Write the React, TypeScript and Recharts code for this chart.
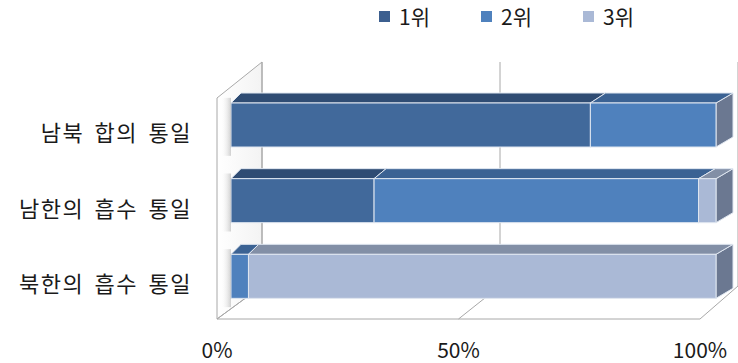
import { BarChart, Bar, XAxis, YAxis, CartesianGrid } from "recharts";

const categories = ["남북 합의 통일", "남한의 흡수 통일", "북한의 흡수 통일"];
const seriesNames = ["1위", "2위", "3위"];
const rank1 = [74.1, 29.5, 0];
const rank2 = [25.9, 66.9, 3.6];
const rank3 = [0, 3.6, 96.4];
const xTicks = [0, 50, 100];

const data = categories.map((name, i) => ({
  name,
  r1: rank1[i],
  r2: rank2[i],
  r3: rank3[i],
}));

const W = 738;
const H = 363;
const PLOT_LEFT = 231;
const PLOT_RIGHT = 716;
const FONT = "'Noto Sans CJK KR', 'Noto Sans', sans-serif";

const frontColors = ["#41699b", "#4f81bd", "#aab9d6"];
const topColors = ["#2f4c73", "#3b6293", "#828fa6"];
const sideColor = "#6b7891";
const legendColors = ["#3c5f8f", "#4f81bd", "#aab9d6"];

// perspective: depth grows a bit toward the right side
const depthX = (x: number) => 10 + (7 * (x - PLOT_LEFT)) / (PLOT_RIGHT - PLOT_LEFT);
const DY = 10;

const makeBox = (series: number) => (props: any) => {
  const { x, y, width, height } = props;
  if (!width || width <= 0) return <g />;
  const x2 = x + width;
  const dl = depthX(x);
  const dr = depthX(x2);
  return (
    <g>
      <polygon
        points={`${x2},${y} ${x2 + dr},${y - DY} ${x2 + dr},${y + height - DY} ${x2},${y + height}`}
        fill={sideColor}
        stroke="#dfe6f0"
        strokeWidth={1}
      />
      <polygon
        points={`${x},${y} ${x + dl},${y - DY} ${x2 + dr},${y - DY} ${x2},${y}`}
        fill={topColors[series]}
        stroke="#dfe6f0"
        strokeWidth={1}
      />
      <rect x={x} y={y} width={width} height={height} fill={frontColors[series]} stroke="#dfe6f0" strokeWidth={1} />
    </g>
  );
};

// back wall, left wall and floor follow the x scale of the grid lines
const wallLine = (props: any) => {
  const { x1, index } = props;
  const t = (x1 - PLOT_LEFT) / (PLOT_RIGHT - PLOT_LEFT);
  const xb = 262 + t * 476;
  const xf = 217 + t * 483;
  const first = index === 0 || Math.abs(t) < 0.01;
  return (
    <g key={`wall-${index}`}>
      {first && (
        <g>
          <polygon points="217,98 262,62 262,286 217,319" fill="url(#wallGrad)" stroke="#a8a8a8" strokeWidth={1} />
          <line x1={217} y1={319} x2={700} y2={319} stroke="#a8a8a8" strokeWidth={1} />
        </g>
      )}
      <line x1={xb} y1={62} x2={xb} y2={286} stroke="#a8a8a8" strokeWidth={1} />
      <line x1={xf} y1={319} x2={xb} y2={286} stroke="#a8a8a8" strokeWidth={1} />
    </g>
  );
};

const CategoryTick = (props: any) => {
  const { y, payload } = props;
  return (
    <g>
      <rect x={PLOT_LEFT - 10} y={y - 27} width={10} height={58} fill="url(#shadowGrad)" />
      <text
        x={192}
        y={y + 16}
        textAnchor="end"
        fontSize={22}
        fill="#1a1a1a"
        fontFamily={FONT}
        style={{ wordSpacing: 4, letterSpacing: 1.5 }}
      >
        {payload.value}
      </text>
    </g>
  );
};

const PercentTick = (props: any) => {
  const { x, payload } = props;
  const t = (x - PLOT_LEFT) / (PLOT_RIGHT - PLOT_LEFT);
  const xf = 217 + t * 483;
  return (
    <text x={xf} y={358} textAnchor="middle" fontSize={21} fill="#1a1a1a" fontFamily={FONT}>
      {`${payload.value}%`}
    </text>
  );
};

export default function App() {
  return (
    <div style={{ position: "absolute", left: 0, top: 0, width: W, height: H, background: "#fff", fontFamily: FONT }}>
      <div style={{ position: "absolute", left: 379, top: 1, display: "flex" }}>
        {seriesNames.map((n, i) => (
          <div key={n} style={{ width: 102, display: "flex", alignItems: "center", fontSize: 21, color: "#1a1a1a" }}>
            <span style={{ width: 11, height: 11, background: legendColors[i], marginRight: 9, display: "inline-block" }} />
            <span>{n}</span>
          </div>
        ))}
      </div>
      <BarChart width={W} height={H} data={data} layout="vertical" margin={{ top: 87, right: 22, bottom: 0, left: 0 }} barSize={44}>
        <defs>
          <linearGradient id="wallGrad" x1="0" y1="0" x2="1" y2="0">
            <stop offset="0%" stopColor="#ffffff" />
            <stop offset="100%" stopColor="#f3f3f3" />
          </linearGradient>
          <linearGradient id="shadowGrad" x1="0" y1="0" x2="1" y2="0">
            <stop offset="0%" stopColor="#ffffff" stopOpacity={0} />
            <stop offset="100%" stopColor="#9a9a9a" stopOpacity={0.45} />
          </linearGradient>
        </defs>
        <CartesianGrid horizontal={false} vertical={wallLine} stroke="#a8a8a8" />
        <XAxis
          type="number"
          domain={[0, 100]}
          ticks={xTicks}
          axisLine={false}
          tickLine={false}
          height={49}
          tick={<PercentTick />}
          interval={0}
        />
        <YAxis type="category" dataKey="name" width={231} axisLine={false} tickLine={false} tick={<CategoryTick />} interval={0} />
        <Bar dataKey="r1" name={seriesNames[0]} stackId="a" shape={makeBox(0)} isAnimationActive={false} />
        <Bar dataKey="r2" name={seriesNames[1]} stackId="a" shape={makeBox(1)} isAnimationActive={false} />
        <Bar dataKey="r3" name={seriesNames[2]} stackId="a" shape={makeBox(2)} isAnimationActive={false} />
      </BarChart>
    </div>
  );
}
